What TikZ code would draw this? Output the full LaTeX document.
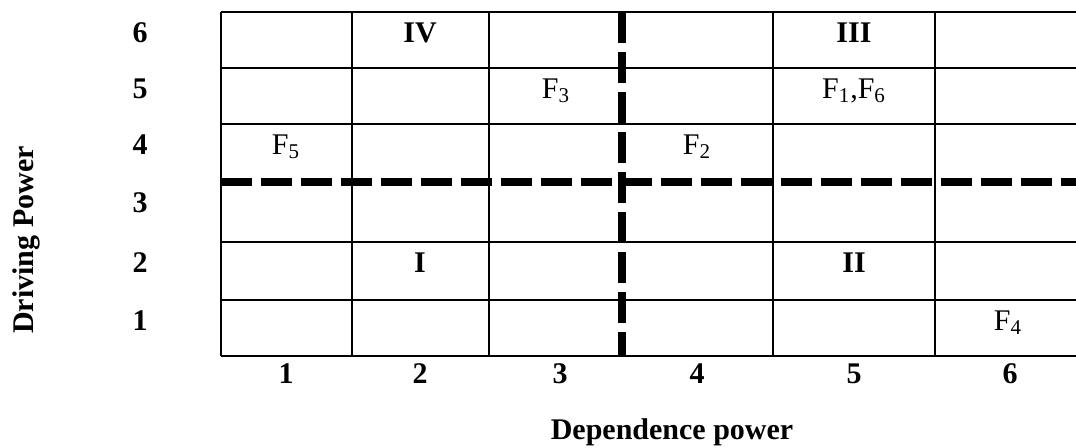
\documentclass[tikz,border=0pt]{standalone}
\usepackage{fontspec}
\setmainfont{Liberation Serif}
\begin{document}
\begin{tikzpicture}[
    x=0.5pt, y=-0.5pt,
    every node/.style={font=\fontsize{15}{18}\selectfont, inner sep=0pt},
    cell/.style={anchor=base},
    quad/.style={anchor=base, font=\fontsize{15}{18}\selectfont\bfseries},
    axislabel/.style={anchor=base, font=\fontsize{15}{18}\selectfont\bfseries},
    gridline/.style={line width=1.1pt},
    divider/.style={line width=4pt, dash pattern=on 15.5pt off 4.5pt},
  ]
  \useasboundingbox (0,0) rectangle (1076,447);

  % grid
  \foreach \cx in {221,352,489,773,935}
    \draw[gridline] (\cx,12) -- (\cx,356);
  \foreach \ry in {12,68,124,242,300,356}
    \draw[gridline] (221,\ry) -- (1076,\ry);

  % quadrant dividers
  \coordinate (hdivL) at (221,182);
  \coordinate (hdivR) at (1076,182);
  \coordinate (vdivT) at (622,12);
  \coordinate (vdivB) at (622,356);
  \draw[divider] (hdivL) -- (hdivR);
  \draw[divider] (vdivT) -- (vdivB);

  % row and column numbers
  \foreach \n/\ry in {6/42,5/98,4/154,3/212,2/272,1/330}
    \node[axislabel] (row\n) at (140,\ry) {\n};
  \foreach \n/\cx in {1/286,2/420,3/560,4/697,5/854,6/1010}
    \node[axislabel] (col\n) at (\cx,383) {\n};

  % quadrants
  \node[quad] (qIV) at (420,42) {IV};
  \node[quad] (qIII) at (854,42) {III};
  \node[quad] (qI) at (420,272) {I};
  \node[quad] (qII) at (854,272) {II};

  % factors
  \node[cell] (f3) at (556,98) {F\textsubscript{3}};
  \node[cell] (f16) at (854,98) {F\textsubscript{1},F\textsubscript{6}};
  \node[cell] (f5) at (286,154) {F\textsubscript{5}};
  \node[cell] (f2) at (697,154) {F\textsubscript{2}};
  \node[cell] (f4) at (1008,330) {F\textsubscript{4}};

  % axis titles
  \node[axislabel] (xtitle) at (672,439) {Dependence power};
  \node[axislabel, rotate=90] (ytitle) at (33,240) {Driving Power};
\end{tikzpicture}
\end{document}
